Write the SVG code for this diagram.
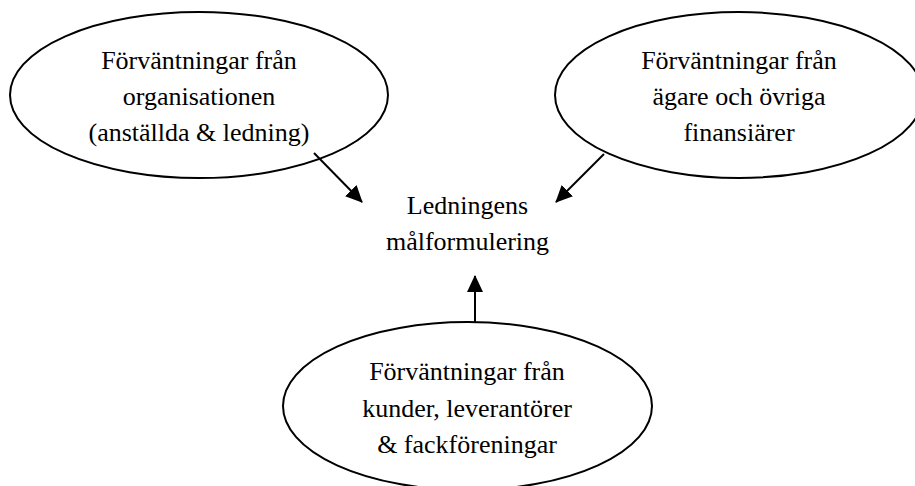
<svg xmlns="http://www.w3.org/2000/svg" width="915" height="486" viewBox="0 0 915 486">
<style>
.node ellipse{fill:#fff;stroke:#000;stroke-width:2}
.node text,.label text{font-family:"Liberation Serif","Times New Roman",serif;font-size:26px;fill:#000;text-anchor:middle}
.conn line{stroke:#000;stroke-width:2;fill:none}
</style>
<defs>
<marker id="ah" markerUnits="userSpaceOnUse" markerWidth="18" markerHeight="17" refX="16" refY="8" orient="auto">
<path d="M0,0 L17,8 L0,16 z" fill="#000"/>
</marker>
</defs>
<rect width="915" height="486" fill="#fff"/>
<g id="org" class="node">
<ellipse cx="199" cy="95" rx="189" ry="83"/>
<text x="199" y="69">Förväntningar från</text>
<text x="199" y="105">organisationen</text>
<text x="199" y="141">(anställda &amp; ledning)</text>
</g>
<g id="agare" class="node">
<ellipse cx="739" cy="95" rx="184" ry="83"/>
<text x="739" y="69">Förväntningar från</text>
<text x="739" y="105">ägare och övriga</text>
<text x="739" y="141">finansiärer</text>
</g>
<g id="kunder" class="node">
<ellipse cx="467.5" cy="406" rx="184.5" ry="84"/>
<text x="467" y="380">Förväntningar från</text>
<text x="467" y="417">kunder, leverantörer</text>
<text x="467" y="453">&amp; fackföreningar</text>
</g>
<g id="ledning" class="label">
<text x="467.5" y="214">Ledningens</text>
<text x="467.5" y="250">målformulering</text>
</g>
<g id="connectors" class="conn">
<line x1="314" y1="153" x2="362" y2="202" marker-end="url(#ah)"/>
<line x1="604" y1="154" x2="556" y2="202" marker-end="url(#ah)"/>
<line x1="475" y1="322" x2="475" y2="276" marker-end="url(#ah)"/>
</g>
</svg>
